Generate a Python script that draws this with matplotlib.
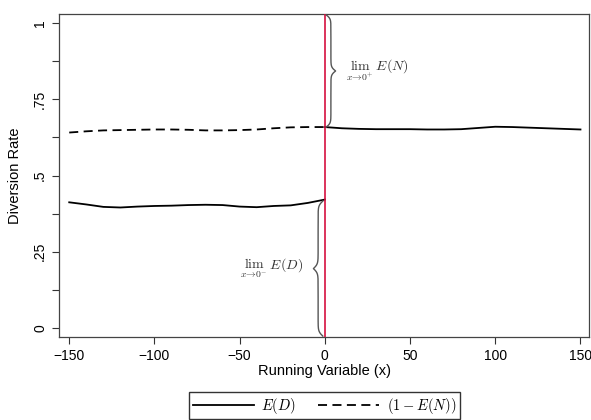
import numpy as np
import matplotlib
matplotlib.use("Agg")
import matplotlib.pyplot as plt
from matplotlib.ticker import MultipleLocator

plt.rcParams['font.family'] = ['Liberation Sans', 'DejaVu Sans']
plt.rcParams['mathtext.fontset'] = 'cm'

# Data
x_left = [-150, -140, -130, -120, -110, -100, -90, -80, -70, -60, -50, -40, -30, -20, -10, 0]
e_d = [0.412, 0.405, 0.397, 0.395, 0.398, 0.400, 0.401, 0.403, 0.404, 0.403,
       0.398, 0.396, 0.400, 0.402, 0.410, 0.421]
one_minus_en = [0.641, 0.645, 0.648, 0.649, 0.650, 0.651, 0.651, 0.650, 0.648, 0.648,
                0.649, 0.651, 0.655, 0.658, 0.659, 0.659]
x_right = [0, 10, 20, 30, 40, 50, 60, 70, 80, 90, 100, 110, 120, 130, 140, 150]
e_right = [0.659, 0.655, 0.653, 0.652, 0.652, 0.652, 0.651, 0.651, 0.652, 0.656,
           0.660, 0.659, 0.657, 0.655, 0.653, 0.651]
cutoff = 0
yticks = [0, 0.25, 0.5, 0.75, 1]
ytick_labels = ["0", ".25", ".5", ".75", "1"]
xticks = [-150, -100, -50, 0, 50, 100, 150]

fig = plt.figure(figsize=(5.91, 4.20), dpi=100)
ax = fig.add_axes([59/591, 1-337/420, (589-59)/591, (337-14)/420])

ax.plot(x_left, e_d, color='black', lw=1.3, label=r'$E(D)$')
ax.plot(x_left, one_minus_en, color='black', lw=1.3, ls=(0, (5, 3)), label=r'$(1-E(N))$')
ax.plot(x_right, e_right, color='black', lw=1.3)
ax.axvline(cutoff, color='#d6103f', lw=1.2, zorder=3)

ylim = (-0.03, 1.03)
ax.set_xlim(-156, 155)
ax.set_ylim(*ylim)


def brace(ax, x0, y0, y1, width, color='#555555'):
    # vertical curly brace from y0 to y1 at x0, bulging by width (sign = direction)
    n = 200
    t = np.linspace(0, 0.5, n)
    beta = 60.0
    half = 1/(1+np.exp(-beta*(t-t[0]))) + 1/(1+np.exp(-beta*(t-t[-1])))
    prof = np.concatenate([half, half[-2::-1]])
    prof = (prof - prof.min()) / (prof.max() - prof.min())
    ys = np.linspace(y0, y1, len(prof))
    xs = x0 + prof * width
    ax.plot(xs, ys, color=color, lw=1.0, clip_on=False, zorder=4)


top_val = e_right[0]
bot_val = e_d[-1]
brace(ax, cutoff + 0.8, top_val, ylim[1] - 0.003, 5.5)
brace(ax, cutoff - 1.2, ylim[0] + 0.003, bot_val - 0.005, -5.5)

ax.text(cutoff + 12.5, (top_val + ylim[1]) / 2, r'$\lim_{x\to 0^{+}}\, E(N)$',
        fontsize=10, color='#333333', ha='left', va='center')
ax.text(cutoff - 12.5, (bot_val + ylim[0]) / 2, r'$\lim_{x\to 0^{-}}\, E(D)$',
        fontsize=10, color='#333333', ha='right', va='center')

ax.set_yticks(yticks)
ax.set_yticklabels(ytick_labels, rotation=90, va='center')
ax.yaxis.set_minor_locator(MultipleLocator(0.125))
ax.set_xticks(xticks)
ax.tick_params(axis='both', which='both', direction='out', length=5, width=0.8,
               labelsize=10, color='#333333')
ax.tick_params(axis='y', which='minor', length=5)
for s in ax.spines.values():
    s.set_color('#444444')
    s.set_linewidth(0.9)

ax.set_xlabel('Running Variable (x)', fontsize=10.5, labelpad=1)
ax.set_ylabel('Diversion Rate', fontsize=10.5, labelpad=8)

fig.legend(loc='upper center', bbox_to_anchor=(324.5/591, 1-392/420), ncol=2,
           frameon=True, fancybox=False, edgecolor='#333333', framealpha=1,
           handlelength=4.2, fontsize=10.5, borderpad=0.25, columnspacing=1.5,
           handletextpad=0.5, borderaxespad=0)

fig.savefig('out.png', dpi=100)
